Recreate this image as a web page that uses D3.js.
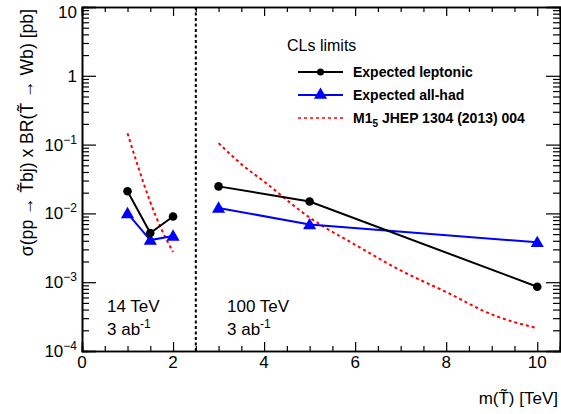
<!DOCTYPE html>
<html><head><meta charset="utf-8">
<script src="https://cdn.jsdelivr.net/npm/d3@7"></script>
<style>
body{margin:0;background:#fff;}
text{font-family:"Liberation Sans",Arial,Helvetica,sans-serif;}
</style></head>
<body><svg id="c" width="561" height="414"></svg>
<script>
// ---- data ----
const lepMass14 = [1, 1.5, 2];
const lepVal14 = [0.021, 0.0052, 0.0090];
const lepMass100 = [3, 5, 10];
const lepVal100 = [0.0247, 0.0149, 0.00086];
const hadMass14 = [1, 1.5, 2];
const hadVal14 = [0.0100, 0.0041, 0.0047];
const hadMass100 = [3, 5, 10];
const hadVal100 = [0.0120, 0.0069, 0.0038];
const thMass14 = [1, 1.25, 1.5, 1.75, 2];
const thVal14 = [0.146, 0.044, 0.0146, 0.0058, 0.00275];
const thMass100 = [3, 3.5, 4, 5, 6, 7, 8, 9, 10];
const thVal100 = [0.105, 0.052, 0.029, 0.0087, 0.0035, 0.00148, 0.00072, 0.00034, 0.000214];
const xTicks = [0, 2, 4, 6, 8, 10];
const yTicks = [1e-4, 1e-3, 1e-2, 1e-1, 1, 10];
const yTickLabels = [["10","\u22124"],["10","\u22123"],["10","\u22122"],["10","\u22121"],["1",""],["10",""]];
const legendLabels = ["Expected leptonic", "Expected all-had", "M1"];
const sqrtsLabels = ["14 TeV", "100 TeV"];
const separator = 2.5;

const svg = d3.select("#c");
const L = 82, R = 560, T = 7, B = 351;
const x = d3.scaleLinear().domain([0, 10.5]).range([L, R]);
const y = d3.scaleLog().domain([1e-4, 10]).range([B, T]);

// minor ticks
const xMinor = d3.range(0, 10.51, 0.5).filter(v => Math.abs(v/2 - Math.round(v/2)) > 1e-6);
const yMinor = [];
for (let e = -4; e < 1; e++) for (let k = 2; k <= 9; k++) yMinor.push(k * Math.pow(10, e));

function styleAxis(g){ g.select(".domain").attr("stroke","#000").attr("stroke-width",1.6); g.selectAll(".tick line").attr("stroke","#000").attr("stroke-width",1.2); }

// bottom
svg.append("g").attr("transform",`translate(0,${B})`).call(d3.axisBottom(x).tickValues(xTicks).tickSize(-9).tickFormat("")).call(styleAxis);
svg.append("g").attr("transform",`translate(0,${B})`).call(d3.axisBottom(x).tickValues(xMinor).tickSize(-5).tickFormat("")).call(styleAxis);
// top
svg.append("g").attr("transform",`translate(0,${T})`).call(d3.axisTop(x).tickValues(xTicks).tickSize(-9).tickFormat("")).call(styleAxis);
svg.append("g").attr("transform",`translate(0,${T})`).call(d3.axisTop(x).tickValues(xMinor).tickSize(-5).tickFormat("")).call(styleAxis);
// left
svg.append("g").attr("transform",`translate(${L},0)`).call(d3.axisLeft(y).tickValues(yTicks).tickSize(-14).tickFormat("")).call(styleAxis);
svg.append("g").attr("transform",`translate(${L},0)`).call(d3.axisLeft(y).tickValues(yMinor).tickSize(-7).tickFormat("")).call(styleAxis);
// right
svg.append("g").attr("transform",`translate(${R},0)`).call(d3.axisRight(y).tickValues(yTicks).tickSize(-14).tickFormat("")).call(styleAxis);
svg.append("g").attr("transform",`translate(${R},0)`).call(d3.axisRight(y).tickValues(yMinor).tickSize(-7).tickFormat("")).call(styleAxis);

// x tick labels
svg.append("g").selectAll("text").data(xTicks).join("text")
  .attr("x", d => x(d)).attr("y", B + 17).attr("text-anchor","middle")
  .attr("font-size", 17).text(d => d);
// y tick labels
yTicks.forEach((v,i) => {
  const [b, s] = yTickLabels[i];
  const t = svg.append("text").attr("x", L - 5).attr("y", Math.max(y(v) + 6, 18)).attr("text-anchor","end").attr("font-size",17);
  t.append("tspan").text(b);
  if (s) t.append("tspan").attr("dy",-7).attr("font-size",12).text(s);
});

// axis titles
svg.append("text").attr("transform",`translate(33,9) rotate(-90)`).attr("text-anchor","end").attr("font-size",17.6)
  .text("\u03C3(pp \u2192 T\u0303bj) x BR(T\u0303 \u2192 Wb) [pb]");
svg.append("text").attr("x", 558).attr("y", 404).attr("text-anchor","end").attr("font-size",17)
  .text("m(T\u0303) [TeV]");

// separator
svg.append("line").attr("x1", x(separator)).attr("x2", x(separator)).attr("y1", T).attr("y2", B)
  .attr("stroke","#000").attr("stroke-width",2).attr("stroke-dasharray","3,2.5");

const line = d3.line().x(d => x(d[0])).y(d => y(d[1]));
const zip = (a,b) => a.map((v,i)=>[v,b[i]]);
const tri = d3.symbol().type(d3.symbolTriangle).size(75);

// theory red dashed
[zip(thMass14,thVal14), zip(thMass100,thVal100)].forEach(pts => {
  svg.append("path").attr("d", d3.line().x(d=>x(d[0])).y(d=>y(d[1])).curve(d3.curveMonotoneX)(pts))
    .attr("fill","none").attr("stroke","#ff0000").attr("stroke-width",2).attr("stroke-dasharray","3,3");
});
// all-had
[zip(hadMass14,hadVal14), zip(hadMass100,hadVal100)].forEach(pts => {
  svg.append("path").attr("d", line(pts)).attr("fill","none").attr("stroke","#0000ff").attr("stroke-width",2);
  svg.append("g").selectAll("path").data(pts).join("path").attr("d", tri)
    .attr("transform", d => `translate(${x(d[0])},${y(d[1])+1})`).attr("fill","#0000ff");
});
// leptonic
[zip(lepMass14,lepVal14), zip(lepMass100,lepVal100)].forEach(pts => {
  svg.append("path").attr("d", line(pts)).attr("fill","none").attr("stroke","#000").attr("stroke-width",2);
  svg.append("g").selectAll("circle").data(pts).join("circle")
    .attr("cx", d => x(d[0])).attr("cy", d => y(d[1])).attr("r",4.3).attr("fill","#000");
});

// region labels
function regionLabel(xp, lab){
  svg.append("text").attr("x", xp).attr("y", 312).attr("font-size",17).text(lab);
  const t = svg.append("text").attr("x", xp).attr("y", 335).attr("font-size",17);
  t.append("tspan").text("3 ab");
  t.append("tspan").attr("dy",-7).attr("font-size",12).text("-1");
}
regionLabel(107, sqrtsLabels[0]);
regionLabel(227, sqrtsLabels[1]);

// legend
svg.append("text").attr("x",287).attr("y",51).attr("font-size",16).text("CLs limits");
const ly = [72, 95, 118];
const lx1 = 298, lx2 = 343, lmid = 320.5, ltx = 353;
svg.append("line").attr("x1",lx1).attr("x2",lx2).attr("y1",ly[0]).attr("y2",ly[0]).attr("stroke","#000").attr("stroke-width",2);
svg.append("circle").attr("cx",lmid).attr("cy",ly[0]).attr("r",3.5).attr("fill","#000");
svg.append("line").attr("x1",lx1).attr("x2",lx2).attr("y1",ly[1]).attr("y2",ly[1]).attr("stroke","#0000ff").attr("stroke-width",2);
svg.append("path").attr("d",tri).attr("transform",`translate(${lmid},${ly[1]})`).attr("fill","#0000ff");
svg.append("line").attr("x1",lx1).attr("x2",lx2).attr("y1",ly[2]).attr("y2",ly[2]).attr("stroke","#ff0000").attr("stroke-width",1.6).attr("stroke-dasharray","3,3");
legendLabels.forEach((lab,i) => {
  const t = svg.append("text").attr("x",ltx).attr("y",ly[i]+5).attr("font-size",14).attr("font-weight","bold");
  t.append("tspan").text(lab);
  if (i === 2) {
    t.append("tspan").attr("dy",4).attr("font-size",10).text("5");
    t.append("tspan").attr("dy",-4).text(" JHEP 1304 (2013) 004");
  }
});
</script></body></html>
